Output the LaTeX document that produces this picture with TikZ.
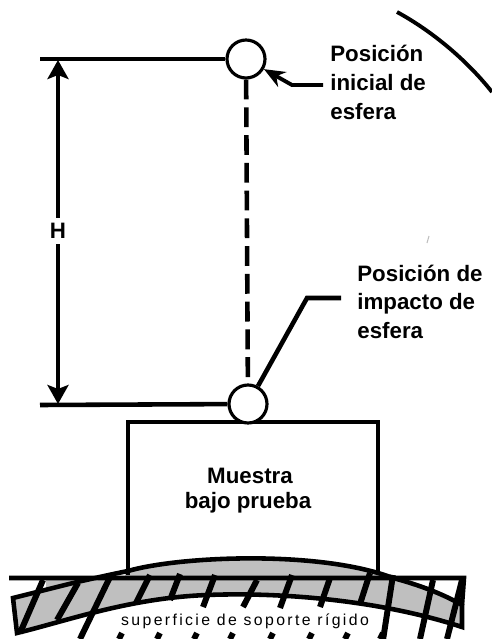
\documentclass[tikz,border=0pt]{standalone}
\usepackage{fontspec}
\setmainfont{Liberation Sans}
\usetikzlibrary{arrows.meta}
\definecolor{bandgray}{gray}{0.75}
\tikzset{
	sphere/.style={circle, draw, line width=1.8pt, fill=white, minimum size=0.76cm, inner sep=0pt},
	heavy/.style={line width=2.6pt},
	hatch/.style={line width=3.4pt},
	boldtext/.style={font=\bfseries\fontsize{12.7}{12.7}\selectfont},
	note/.style={boldtext, anchor=base west, inner sep=0pt},
	dim/.style={heavy, -{Stealth[length=0.38cm,width=0.42cm,inset=0.08cm]}}
}
\begin{document}
\begin{tikzpicture}[x=0.02cm, y=-0.02cm]
	\useasboundingbox (0,0) rectangle (492,639);
	% draw gray band
	\fill[bandgray] (13,598) -- (37,592) -- (77,582) -- (125,578) -- (125,571) .. controls (180,556) and (320,550) .. (393,578) .. controls (420,585) and (445,595) .. (462,605) -- (462,627) .. controls (380,600) and (280,592) .. (207,595) .. controls (130,598) and (70,620) .. (17,633) -- cycle;
	\fill[bandgray] (46,578) -- (80,578) -- (46,590) -- cycle;
	% draw band outline
	\draw[heavy] (13,598) -- (37,592) -- (77,582) .. controls (100,577) and (108,575) .. (128,571) .. controls (180,556) and (320,550) .. (393,578) .. controls (420,585) and (445,595) .. (462,605) -- (462,627) .. controls (380,600) and (280,592) .. (207,595) .. controls (130,598) and (70,620) .. (17,633) -- cycle;
	\draw[heavy] (9,578) -- (464,578) -- (462,605);
	% draw hatch lines
	\foreach \xa/\ya/\xb/\yb in {43/580/20/633, 78/583/57/620, 110/577/80/639, 150/575/136/603, 180/574/170/600, 215/575/203/607, 257/580/243/607, 292/575/280/608, 330/578/320/607, 370/573/360/604, 393/575/383/640, 433/580/420/639, 462/580/447/639}
	\draw[hatch] (\xa,\ya) -- (\xb,\yb);
	\foreach \x in {122,160,197,233,273,312,348,383}
	\draw[hatch] (\x,633) -- (\x-3,639);
	% draw box and spheres
	\draw[heavy] (128,575) -- (128,422) -- (378,422) -- (378,575);
	\node[sphere] (top) at (246,59) {};
	\node[sphere] (impact) at (248,404) {};
	\coordinate (topleft) at (40,59);
	\coordinate (impactleft) at (40,405);
	\draw[heavy] (topleft) -- (top);
	\draw[heavy] (impactleft) -- (impact);
	\draw[heavy, dash pattern=on 11.3pt off 4.5pt] (top) -- (impact);
	% draw nodes
	\node[boldtext, fill=white, inner sep=3pt] (hnode) at (58,231) {H};
	\coordinate (dimtop) at (58,60);
	\coordinate (dimbottom) at (58,404);
	\draw[dim] (hnode) -- (dimtop);
	\draw[dim] (hnode) -- (dimbottom);
	\node[note] (initline) at (330,61) {Posición};
	\node[note] (initlinetwo) at (330,90) {inicial de};
	\node[note] (initlinethree) at (330,119) {esfera};
	\node[note] (impline) at (357,281) {Posición de};
	\node[note] (implinetwo) at (357,309) {impacto de};
	\node[note] (implinethree) at (357,338) {esfera};
	\node[boldtext, anchor=base] (sampleone) at (250,483) {Muestra};
	\node[boldtext, anchor=base] (sampletwo) at (248,508) {bajo prueba};
	\node[fill=white, inner ysep=1pt, inner xsep=2pt, font=\addfontfeature{LetterSpace=15}\fontsize{9}{9}\selectfont] (support) at (245,621) {superficie de soporte rígido};
	% draw leaders
	\coordinate (initend) at (323,85);
	\coordinate (impend) at (341,298);
	\draw[line width=2.2pt, -{Stealth[length=0.42cm,width=0.34cm]}] (initend) -- (292,85) -- (top);
	\draw[heavy] (impend) -- (307,298) -- (impact);
	% draw outer arc
	\draw[line width=2.2pt] (397,12) .. controls (430,30) and (465,58) .. (492,92);
	\draw[black!25, line width=0.6pt] (429,236) -- (427,243);
\end{tikzpicture}
\end{document}
